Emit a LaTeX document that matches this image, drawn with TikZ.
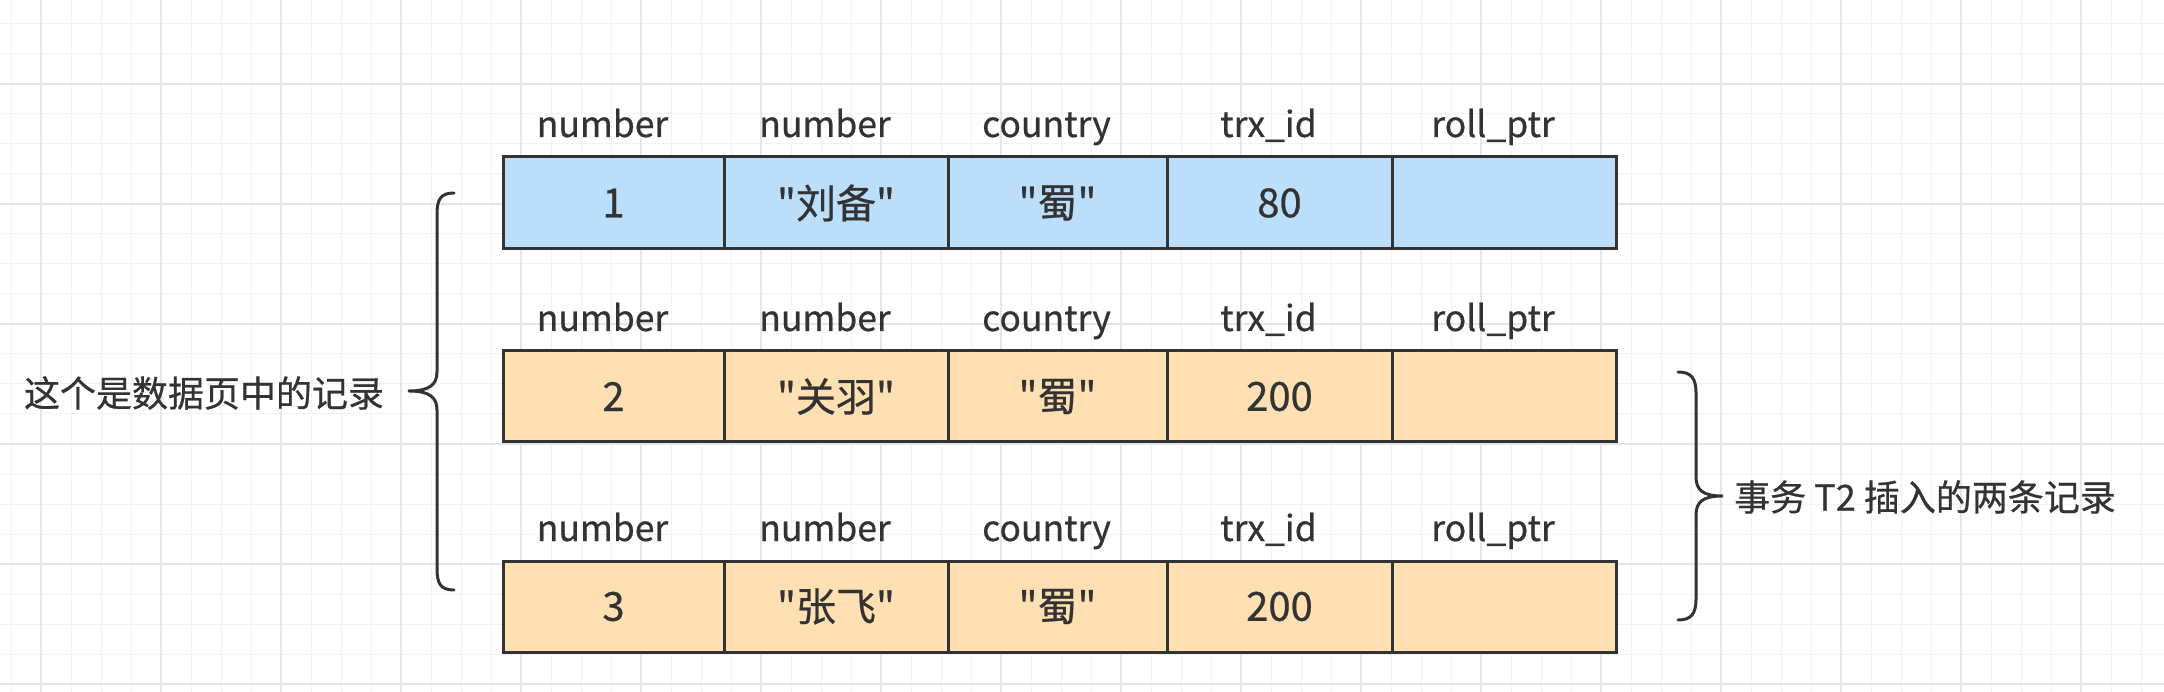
\documentclass[tikz,border=0pt]{standalone}
\usepackage{fontspec}
\setmainfont{Noto Sans CJK SC}[Ligatures=TeXOff, FakeBold=0.6]
\definecolor{ink}{HTML}{333333}
\definecolor{bluefill}{HTML}{BBDEFB}
\definecolor{orangefill}{HTML}{FFE0B2}
\definecolor{gridminor}{HTML}{F2F2F2}
\definecolor{gridmajor}{HTML}{E6E6E6}
\tikzset{
  cellbox/.style={draw=ink, line width=3pt, inner sep=0pt, text=ink, font=\fontsize{40}{48}\selectfont},
  headtext/.style={text=ink, anchor=base, inner sep=0pt, font=\fontsize{35.5}{42}\selectfont},
  bracetext/.style={text=ink, inner sep=0pt, font=\fontsize{36}{42}\selectfont},
  bracket/.style={draw=ink, line width=3pt, line cap=round, line join=round},
  gridminorline/.style={draw=gridminor, line width=1pt},
  gridmajorline/.style={draw=gridmajor, line width=2pt}
}
\newcommand\tablerow[9]{%
  % #1 name, #2 top y, #3 bottom y, #4 fill, #5..#9 values
  \foreach \i/\l/\r/\v/\h in {1/503/724/{#5}/number, 2/724/948/{#6}/number, 3/948/1167/{#7}/country, 4/1167/1392/{#8}/trx\_id, 5/1392/1616/{#9}/roll\_ptr}{
    \node[cellbox, fill=#4, minimum width={(\r-\l)*1pt}, minimum height={(#3-#2)*1pt}]
      (#1c\i) at ({(\l+\r)/2}, {(#2+#3)/2}) {\v};
    \node[headtext] (#1h\i) at ({(\l+\r)/2-11}, {#2-20}) {\h};
  }%
}
\begin{document}
\begin{tikzpicture}[x=1pt,y=-1pt]
\useasboundingbox[fill=white] (0,0) rectangle (2164,692);
% grid
\foreach \x in {11,41,...,2164} \draw[gridminorline] (\x,0) -- (\x,692);
\foreach \y in {24,54,...,692} \draw[gridminorline] (0,\y) -- (2164,\y);
\foreach \x in {41,161,...,2164} \draw[gridmajorline] (\x,0) -- (\x,692);
\foreach \y in {84,204,...,692} \draw[gridmajorline] (0,\y) -- (2164,\y);
% rows
\tablerow{ra}{157}{249}{bluefill}{1}{"刘备"}{"蜀"}{80}{}
\tablerow{rb}{351}{442}{orangefill}{2}{"关羽"}{"蜀"}{200}{}
\tablerow{rc}{561}{652}{orangefill}{3}{"张飞"}{"蜀"}{200}{}
% left brace
\draw[bracket] (454,193) .. controls (441,193) and (437,199) .. (437,214)
  -- (437,372) .. controls (437,385) and (429,391) .. (409,391)
  .. controls (429,391) and (437,397) .. (437,410)
  -- (437,569) .. controls (437,584) and (441,590) .. (454,590);
\node[bracetext] (leftlabel) at (204,393) {这个是数据页中的记录};
% right brace
\draw[bracket] (1678,372) .. controls (1691,372) and (1696,378) .. (1696,393)
  -- (1696,477) .. controls (1696,490) and (1703,496) .. (1722,496)
  .. controls (1703,496) and (1696,502) .. (1696,515)
  -- (1696,599) .. controls (1696,614) and (1691,620) .. (1678,620);
\node[bracetext, anchor=west] (rightlabel) at (1734,497) {事务 T2 插入的两条记录};
\end{tikzpicture}
\end{document}
